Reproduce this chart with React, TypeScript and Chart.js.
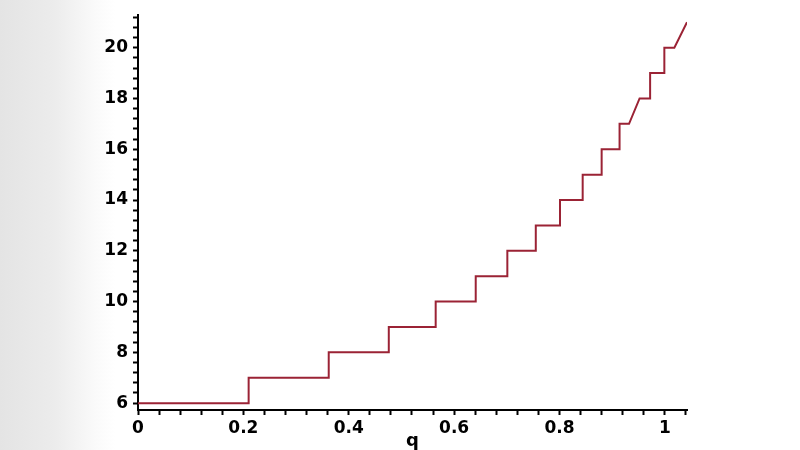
import React, { useEffect, useRef } from "react";
import { Chart, registerables } from "chart.js";

Chart.register(...registerables);

// vertices of the plotted curve
const qValues = [
  0, 0.21, 0.21, 0.362, 0.362, 0.476, 0.476, 0.565, 0.565, 0.641, 0.641,
  0.701, 0.701, 0.755, 0.755, 0.801, 0.801, 0.844, 0.844, 0.88, 0.88, 0.914,
  0.914, 0.932, 0.952, 0.972, 0.972, 0.999, 0.999, 1.018, 1.042,
];
const nValues = [
  6, 6, 7, 7, 8, 8, 9, 9, 10, 10, 11, 11, 12, 12, 13, 13, 14, 14, 15, 15, 16,
  16, 17, 17, 18, 18, 19, 19, 20, 20, 21,
];

const xMin = 0;
const xMax = 1.042;
const xStep = 0.04;
const xLabelEvery = 0.2;
const yMin = 5.73;
const yMax = 21.28;
const yStep = 0.4;
const yLabelEvery = 2;

const isMultiple = (v: number, m: number) =>
  Math.abs(v / m - Math.round(v / m)) < 1e-6;

const tickFont = { family: "'DejaVu Sans', sans-serif", size: 17, weight: "bold" as const };

const App: React.FC = () => {
  const chartRef = useRef<HTMLCanvasElement>(null);
  const chartInstance = useRef<Chart | null>(null);

  useEffect(() => {
    if (!chartRef.current) return;
    if (chartInstance.current) chartInstance.current.destroy();
    const ctx = chartRef.current.getContext("2d");
    if (!ctx) return;

    chartInstance.current = new Chart(ctx, {
      type: "line",
      data: {
        datasets: [
          {
            data: qValues.map((q, i) => ({ x: q, y: nValues[i] })),
            borderColor: "#9b2335",
            borderWidth: 2,
            pointRadius: 0,
            fill: false,
            tension: 0,
          },
        ],
      },
      options: {
        animation: false,
        responsive: true,
        maintainAspectRatio: false,
        layout: { padding: { left: 0, right: 113, top: 5, bottom: 0 } },
        plugins: {
          legend: { display: false },
          tooltip: { enabled: false },
        },
        scales: {
          x: {
            type: "linear",
            min: xMin,
            max: xMax,
            afterFit: (scale) => {
              scale.height = 40;
            },
            border: { display: true, color: "#000", width: 2 },
            grid: {
              drawOnChartArea: false,
              drawTicks: true,
              tickLength: 5,
              tickWidth: 2,
              tickColor: "#000",
            },
            ticks: {
              stepSize: xStep,
              includeBounds: false,
              autoSkip: false,
              maxRotation: 0,
              padding: 3,
              color: "#000",
              font: tickFont,
              callback: (v) => {
                const n = Number(v);
                return isMultiple(n, xLabelEvery) ? String(Math.round(n * 10) / 10) : "";
              },
            },
            title: {
              display: true,
              text: "q",
              color: "#000",
              padding: 0,
              font: { family: "'DejaVu Sans', sans-serif", size: 18, weight: "bold", lineHeight: 1 },
            },
          },
          y: {
            type: "linear",
            min: yMin,
            max: yMax,
            afterFit: (scale) => {
              scale.width = 138;
            },
            border: { display: true, color: "#000", width: 2 },
            grid: {
              drawOnChartArea: false,
              drawTicks: true,
              tickLength: 5,
              tickWidth: 2,
              tickColor: "#000",
            },
            ticks: {
              stepSize: yStep,
              includeBounds: false,
              autoSkip: false,
              padding: 5,
              color: "#000",
              font: tickFont,
              callback: (v) => {
                const n = Number(v);
                return isMultiple(n, yLabelEvery) ? String(Math.round(n)) : "";
              },
            },
          },
        },
      },
    });

    return () => {
      if (chartInstance.current) {
        chartInstance.current.destroy();
        chartInstance.current = null;
      }
    };
  }, []);

  return (
    <div
      style={{
        position: "fixed",
        left: 0,
        top: 0,
        width: "800px",
        height: "450px",
        background:
          "linear-gradient(to right, #e4e4e4 0px, #ececec 55px, #fafafa 95px, #ffffff 115px)",
      }}
    >
      <canvas ref={chartRef}></canvas>
    </div>
  );
};

export default App;
